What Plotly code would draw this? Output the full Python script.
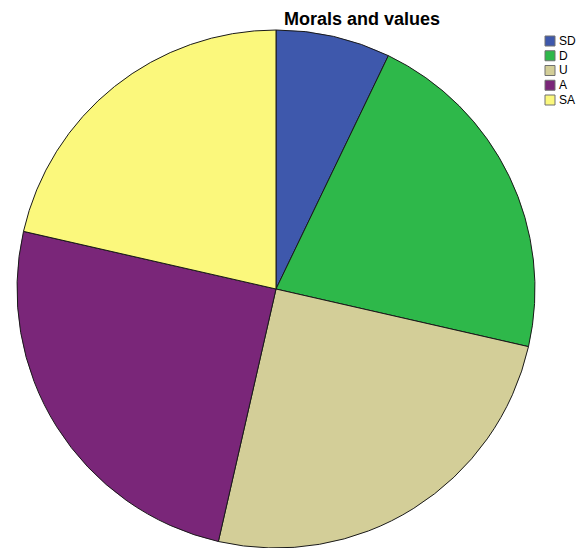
import plotly.graph_objects as go

# Response counts per agreement level
categories = ["SD", "D", "U", "A", "SA"]
counts = [6, 18, 21, 21, 18]
colors = ["#3E58AC", "#2EB84A", "#D3CE98", "#7A2679", "#FBF87C"]

W, H = 579, 548
cx, cy, r = 276, 289, 259

fig = go.Figure(
    go.Pie(
        labels=categories,
        values=counts,
        sort=False,
        direction="clockwise",
        rotation=0,
        marker=dict(colors=colors, line=dict(color="#1a1a1a", width=1)),
        textinfo="none",
        hoverinfo="label+value+percent",
        showlegend=False,
        domain=dict(
            x=[(cx - r) / W, (cx + r) / W],
            y=[(H - cy - r) / H, (H - cy + r) / H],
        ),
    )
)

# Compact legend drawn as swatches + labels
shapes = []
annotations = []
lx, ly0, step, sw = 545, 41, 14.75, 10
for i, (lab, col) in enumerate(zip(categories, colors)):
    yc = ly0 + i * step
    shapes.append(dict(
        type="rect", xref="paper", yref="paper",
        x0=lx / W, x1=(lx + sw) / W,
        y0=1 - (yc + sw / 2) / H, y1=1 - (yc - sw / 2) / H,
        fillcolor=col, line=dict(color="#707070", width=1),
    ))
    annotations.append(dict(
        text=lab, xref="paper", yref="paper",
        x=(lx + sw + 2) / W, y=1 - yc / H,
        xanchor="left", yanchor="middle", showarrow=False,
        font=dict(family="Liberation Sans, Arial", size=12, color="#000000"),
    ))

annotations.append(dict(
    text="<b>Morals and values</b>", xref="paper", yref="paper",
    x=362 / W, y=1 - 19 / H, xanchor="center", yanchor="middle",
    showarrow=False,
    font=dict(family="Liberation Sans, Arial", size=18, color="#000000"),
))

fig.update_layout(
    width=W, height=H,
    margin=dict(l=0, r=0, t=0, b=0),
    paper_bgcolor="white", plot_bgcolor="white",
    shapes=shapes, annotations=annotations,
)

fig.write_html("out.html")
